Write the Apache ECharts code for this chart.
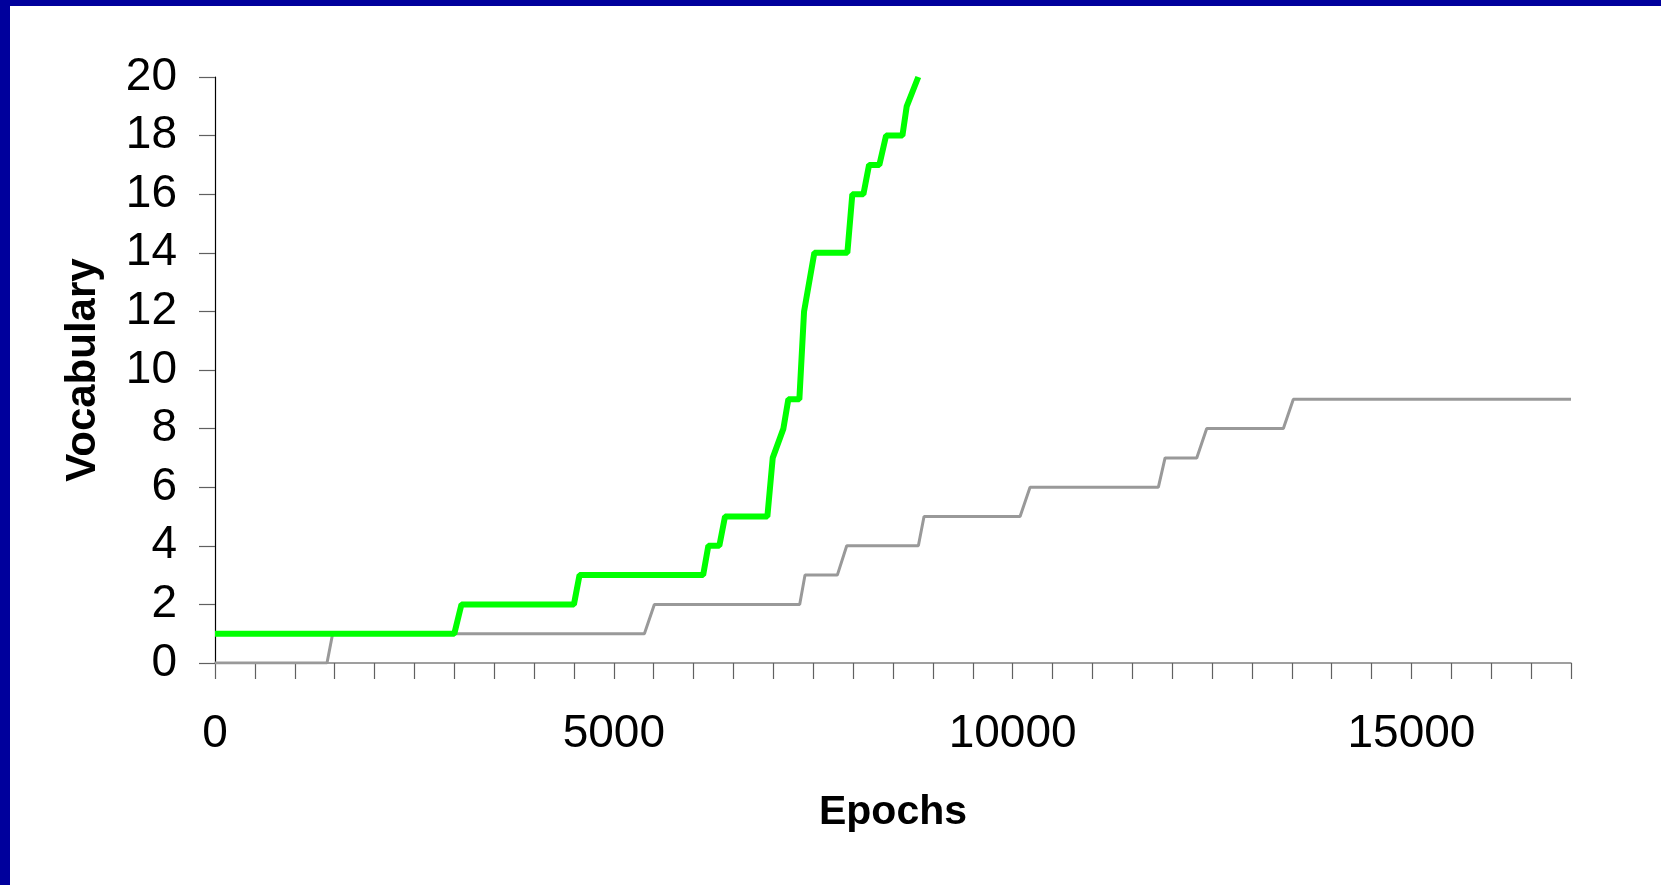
<!DOCTYPE html>
<html>
<head>
<meta charset="utf-8">
<script src="https://cdn.jsdelivr.net/npm/echarts@6/dist/echarts.min.js"></script>
<style>
  html, body { margin: 0; padding: 0; background: #ffffff; }
  #chart {
    width: 1651px; height: 879px;
    border-top: 6px solid #00009c;
    border-left: 10px solid #00009c;
    background: #ffffff;
  }
</style>
</head>
<body>
<div id="chart"></div>
<script>
// Green series (epoch, vocabulary)
const greenEpochs = [0, 3000, 3090, 4500, 4570, 6120, 6185, 6323, 6394, 6925, 6992, 7126, 7188, 7326, 7385, 7514, 7928, 7990, 8129, 8200, 8329, 8413, 8618, 8672, 8817];
const greenVocab  = [1, 1,    2,    2,    3,    3,    4,    4,    5,    5,    7,    8,    9,    9,    12,   14,   14,   16,   16,   17,   17,   18,   18,   19,   20];
// Gray series (epoch, vocabulary)
const grayEpochs = [0, 1404, 1475, 5383, 5508, 7330, 7397, 7802, 7920, 8818, 8889, 10093, 10218, 11827, 11911, 12308, 12433, 13394, 13519, 17000];
const grayVocab  = [0, 0,    1,    1,    2,    2,    3,    3,    4,    4,    5,    5,     6,     6,     7,     7,     8,     8,     9,     9];
// Axis settings
const xLabelValues = [0, 5000, 10000, 15000];
const xAxisName = 'Epochs';
const yAxisName = 'Vocabulary';

const zip = (xs, ys) => xs.map((x, i) => [x, ys[i]]);

const chart = echarts.init(document.getElementById('chart'));
chart.setOption({
  animation: false,
  backgroundColor: '#ffffff',
  grid: { left: 205, right: 90, top: 71, bottom: 222, containLabel: false },
  xAxis: {
    type: 'value',
    min: 0, max: 17000, interval: 500,
    name: xAxisName,
    nameLocation: 'middle',
    nameGap: 129,
    nameTextStyle: { fontFamily: 'Liberation Sans, Arial, sans-serif', fontSize: 41, fontWeight: 'bold', color: '#000', lineHeight: 41 },
    axisLine: { show: true, onZero: false, lineStyle: { color: '#808080', width: 1.5 } },
    axisTick: { show: true, inside: false, length: 16, lineStyle: { color: '#606060', width: 1.2 } },
    axisLabel: {
      show: true, margin: 48,
      fontFamily: 'Liberation Sans, Arial, sans-serif', fontSize: 46, color: '#000', lineHeight: 46,
      formatter: v => xLabelValues.includes(v) ? String(v) : '',
      showMaxLabel: true
    },
    splitLine: { show: false }
  },
  yAxis: {
    type: 'value',
    min: 0, max: 20, interval: 2,
    name: yAxisName,
    nameLocation: 'middle',
    nameGap: 111,
    nameRotate: 90,
    nameTextStyle: { fontFamily: 'Liberation Sans, Arial, sans-serif', fontSize: 42, fontWeight: 'bold', color: '#000', lineHeight: 42 },
    axisLine: { show: true, lineStyle: { color: '#000', width: 1.2 } },
    axisTick: { show: true, inside: false, length: 16, lineStyle: { color: '#606060', width: 1.2 } },
    axisLabel: { margin: 38, fontFamily: 'Liberation Sans, Arial, sans-serif', fontSize: 46, color: '#000' },
    splitLine: { show: false }
  },
  series: [
    {
      type: 'line',
      data: zip(grayEpochs, grayVocab),
      showSymbol: false,
      lineStyle: { color: '#999999', width: 3 },
      z: 2
    },
    {
      type: 'line',
      data: zip(greenEpochs, greenVocab),
      showSymbol: false,
      lineStyle: { color: '#00ff00', width: 6 },
      z: 3
    }
  ]
});
</script>
</body>
</html>
